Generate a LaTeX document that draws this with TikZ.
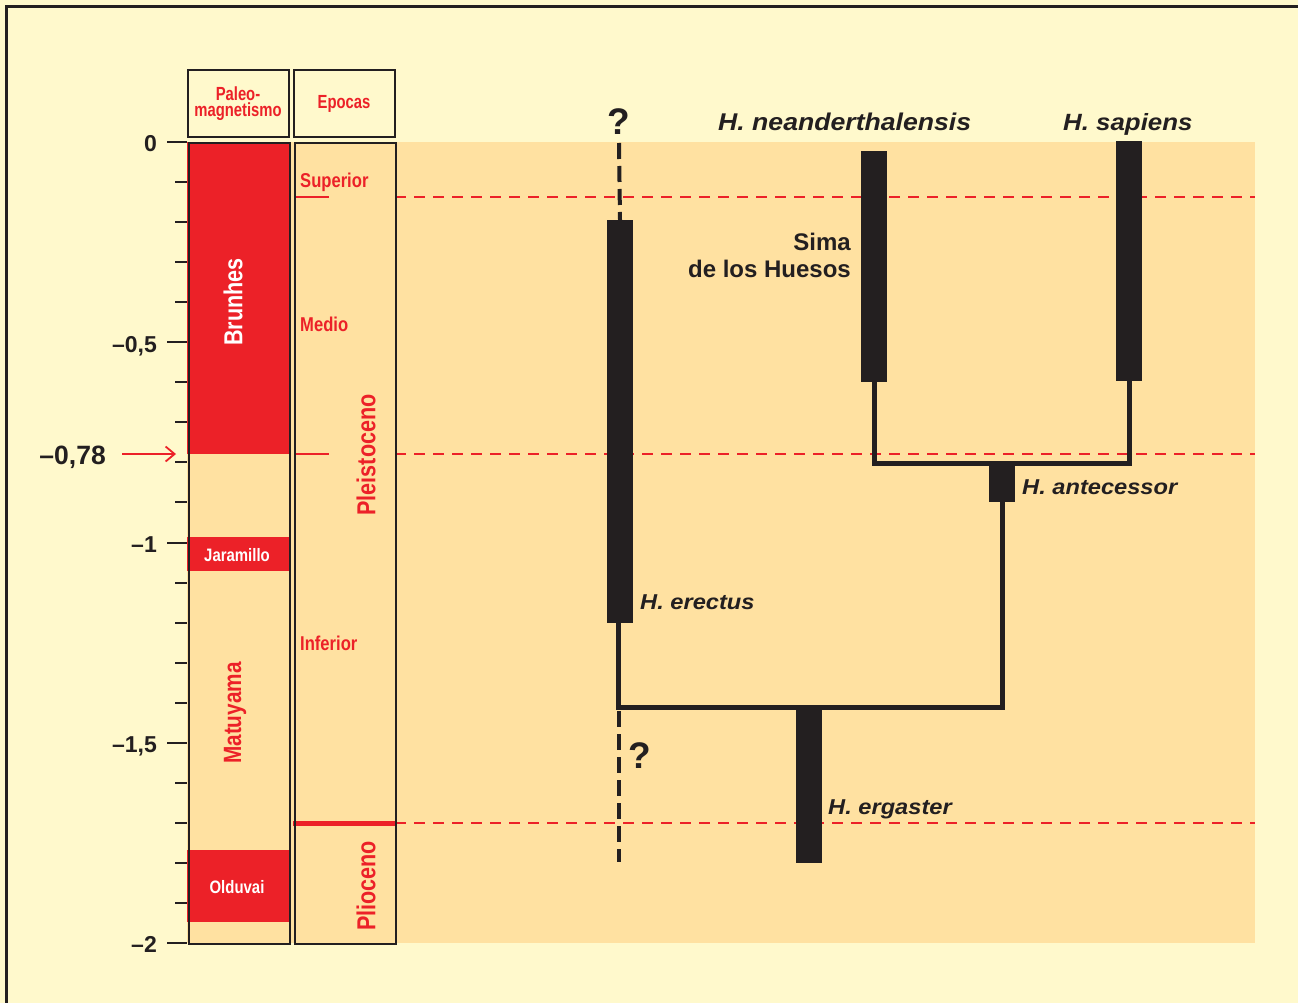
\documentclass[tikz,border=0pt]{standalone}
\usepackage{fontspec}
\setmainfont{Liberation Sans}
\newfontfamily\condfont[FakeStretch=0.83]{Liberation Sans}
\newfontfamily\hdrfont[FakeStretch=0.78]{Liberation Sans}
\newfontfamily\widefont[FakeStretch=1.1]{Liberation Sans}
\usetikzlibrary{arrows.meta}
\definecolor{bgyellow}{HTML}{FFF9CC}
\definecolor{bgorange}{HTML}{FFE1A1}
\definecolor{myred}{HTML}{EC2128}
\definecolor{dark}{HTML}{231F20}
\tikzset{
  colbox/.style={draw=dark, line width=2pt, inner sep=0pt, anchor=north west},
  hdrbox/.style={draw=dark, line width=2pt, inner sep=0pt, minimum width=102pt, minimum height=67pt, align=center, text=myred, font=\hdrfont\bfseries\fontsize{19}{16.5}\selectfont},
  bar/.style={fill=dark, draw=none, inner sep=0pt, minimum width=26pt, anchor=north},
  conn/.style={draw=dark, line width=5pt},
  qdash/.style={draw=dark, line width=4pt, dash pattern=on 16pt off 7pt},
  rdash/.style={draw=myred, line width=1.6pt, dash pattern=on 11pt off 8pt},
  species/.style={text=dark, inner sep=0pt, font=\widefont\bfseries\itshape\fontsize{21.5}{24}\selectfont},
  topspecies/.style={text=dark, inner sep=0pt, font=\widefont\bfseries\itshape\fontsize{23.5}{26}\selectfont},
  ticklab/.style={text=dark, inner sep=0pt, anchor=base east, font=\bfseries\fontsize{23}{26}\selectfont},
  epoch/.style={text=myred, inner sep=0pt, anchor=base west, font=\condfont\bfseries\fontsize{20}{22}\selectfont},
  bigepoch/.style={text=myred, inner sep=0pt, rotate=90, font=\condfont\bfseries\fontsize{26}{28}\selectfont},
  chron/.style={inner sep=0pt, font=\condfont\bfseries\fontsize{18}{20}\selectfont},
  qmark/.style={text=dark, inner sep=0pt, anchor=base, font=\bfseries\fontsize{37}{40}\selectfont},
}
\begin{document}
\begin{tikzpicture}[x=1pt,y=-1pt]
\useasboundingbox (0,0) rectangle (1298,1003);
% background and frame
\fill[bgyellow] (0,0) rectangle (1298,1003);
\draw[dark, line width=3pt] (6.5,1003) -- (6.5,6.5) -- (1298,6.5);
\fill[bgorange] (187,142) rectangle (1255,943);
% red dashed time lines
\draw[rdash] (395,197) -- (1255,197);
\draw[rdash] (395,454) -- (1255,454);
\draw[rdash] (395,823) -- (1255,823);
% paleomagnetism chrons
\fill[myred] (187,142) rectangle (289,454);
\fill[myred] (187,537) rectangle (289,571);
\fill[myred] (187,850) rectangle (289,922);
\node[chron, text=white, rotate=90] (brunhes) at (233,302) {\fontsize{26}{28}\selectfont Brunhes};
\node[chron, text=white] (jaramillo) at (237,555) {Jaramillo};
\node[chron, text=white] (olduvai) at (237,887) {Olduvai};
\node[chron, text=myred, rotate=90] (matuyama) at (235,713) {\fontsize{25}{28}\selectfont Matuyama};
% epochs
\draw[myred, line width=2.5pt] (294,197) -- (329,197);
\draw[myred, line width=2.5pt] (294,454) -- (329,454);
\draw[myred, line width=5pt] (293,823) -- (395,823);
\node[epoch] (superior) at (300,188) {Superior};
\node[epoch] (medio) at (300,331) {Medio};
\node[epoch] (inferior) at (300,650) {Inferior};
\node[bigepoch] (pleisto) at (366,455) {Pleistoceno};
\node[bigepoch] (plio) at (366,886) {Plioceno};
% column boxes
\node[colbox, minimum width=101pt, minimum height=801pt] (colpaleo) at (187.5,142) {};
\node[colbox, minimum width=101pt, minimum height=801pt] (colepoch) at (293.5,142) {};
\node[hdrbox, minimum width=101pt] (hpaleo) at (238,103.5) {Paleo-\\magnetismo};
\node[hdrbox, minimum width=101pt] (hepoch) at (344,103.5) {Epocas};
% ticks
\foreach \k in {0,...,20} \draw[dark, line width=2pt] (175,142+\k*40.05) -- (187,142+\k*40.05);
\foreach \k in {0,5,10,15,20} \draw[dark, line width=2pt] (167,142+\k*40.05) -- (187,142+\k*40.05);
\node[ticklab] (t0) at (157,152) {0};
\node[ticklab] (t05) at (157,352) {–0,5};
\node[ticklab] (t1) at (157,552) {–1};
\node[ticklab] (t15) at (157,752) {–1,5};
\node[ticklab] (t2) at (157,952) {–2};
\node[ticklab, font=\bfseries\fontsize{26.5}{28}\selectfont] (t078) at (106,464) {–0,78};
\coordinate (arrs) at (122,454);
\coordinate (arre) at (176,454);
\draw[myred, line width=1.8pt, -{Straight Barb[length=9pt, width=15pt, line width=1.8pt]}] (arrs) -- (arre);
% species bars
\node[bar, minimum height=403pt] (erectus) at (620,220) {};
\node[bar, minimum height=231pt] (neander) at (874,151) {};
\node[bar, minimum height=240pt] (sapiens) at (1129,141) {};
\node[bar, minimum height=36pt] (antecessor) at (1002,466) {};
\node[bar, minimum height=153pt] (ergaster) at (809,710) {};
% connectors
\draw[conn] ([xshift=-1.5pt]erectus.south) |- ([yshift=2.5pt]ergaster.north) -| (antecessor.south);
\draw[conn] (neander.south) |- ([yshift=2.5pt]antecessor.north) -| (sapiens.south);
\coordinate (qtop) at (619,143);
\coordinate (qmid) at (618.5,711);
\coordinate (qbot) at (618.5,862);
\draw[qdash] (qtop) -- (erectus.north);
\draw[qdash] (qmid) -- (qbot);
\node[qmark] (q1) at (619,135) {?};
\node[qmark] (q2) at (640,768) {?};
% labels
\node[topspecies, anchor=base west, font=\widefont\bfseries\itshape\fontsize{24.2}{26}\selectfont] (lneander) at (718,131) {H. neanderthalensis};
\node[topspecies, anchor=base west] (lsapiens) at (1063,131) {H. sapiens};
\node[species, anchor=base west] (lerectus) at (640,609) {H. erectus};
\node[species, anchor=base west] (lante) at (1022,494) {H. antecessor};
\node[species, anchor=base west] (lerg) at (828,814) {H. ergaster};
\node[text=dark, inner sep=0pt, anchor=north east, align=right, font=\bfseries\fontsize{24}{27}\selectfont] (sima) at (851,233) {Sima\\de los Huesos};
\end{tikzpicture}
\end{document}
